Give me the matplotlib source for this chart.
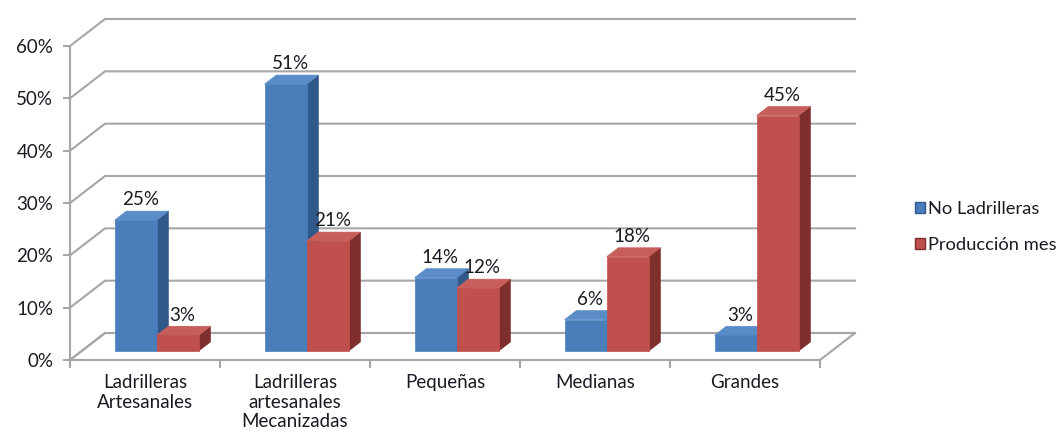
import matplotlib.pyplot as plt
from matplotlib.patches import Polygon, Patch
from matplotlib.ticker import FuncFormatter

categorias = ["Ladrilleras\nArtesanales", "Ladrilleras\nartesanales\nMecanizadas",
              "Pequeñas", "Medianas", "Grandes"]
no_ladrilleras = [25, 51, 14, 6, 3]
produccion_mes = [3, 21, 12, 18, 45]
series = ["No Ladrilleras", "Producción mes"]

# colores: frente, lado, tapa
azul = ("#4a7ebb", "#30598a", "#5a8cc8")
rojo = ("#c0504d", "#7e2e2c", "#c85e5b")

plt.rcParams["font.family"] = ["Lato", "DejaVu Sans"]
txt = "#1a1a24"
grid = "#a6a6a6"
fs = 13.5

fig = plt.figure(figsize=(10.62, 4.41), dpi=100)
ax = fig.add_axes([70 / 1062, 81 / 441, 750 / 1062, 314 / 441])
ax.set_xlim(0, 5)
ax.set_ylim(0, 60)
ax.set_facecolor("none")

# proyeccion oblicua: profundidad completa
DX = 35 / 150
DY = 27 / (314 / 60)


def P(x, y, d):
    return (x + d * DX, y + d * DY)


n = len(categorias)

# piso
piso = Polygon([P(0, 0, 0), P(n, 0, 0), P(n, 0, 1), P(0, 0, 1)], closed=True,
               facecolor="white", edgecolor=grid, lw=1.5, clip_on=False, zorder=1)
ax.add_patch(piso)

# lineas de cuadricula (pared izquierda + fondo)
for v in range(0, 61, 10):
    a, b = P(0, v, 0), P(0, v, 1)
    c = P(n, v, 1)
    ax.plot([a[0], b[0], c[0]], [a[1], b[1], c[1]], color=grid, lw=1.5,
            clip_on=False, zorder=1, solid_joinstyle="miter")

# barras 3D
d0, d1 = 1 / 3, 2 / 3
w = 0.28


def barra(x0, h, cols):
    x1 = x0 + w
    frente = [P(x0, 0, d0), P(x1, 0, d0), P(x1, h, d0), P(x0, h, d0)]
    lado = [P(x1, 0, d0), P(x1, 0, d1), P(x1, h, d1), P(x1, h, d0)]
    tapa = [P(x0, h, d0), P(x1, h, d0), P(x1, h, d1), P(x0, h, d1)]
    for pts, c in ((lado, cols[1]), (tapa, cols[2]), (frente, cols[0])):
        ax.add_patch(Polygon(pts, closed=True, facecolor=c, edgecolor=c,
                             lw=0.5, clip_on=False, zorder=3))
    tx = P(x0 + w / 2 + 0.03, h, d0)[0]
    ty = P(x0, h, d1)[1]
    ax.annotate(f"{h}%", (tx, ty), xytext=(0, 2), textcoords="offset points",
                ha="center", va="bottom", fontsize=fs, color=txt, zorder=5,
                annotation_clip=False)


for i in range(n):
    barra(i + 0.5 - w, no_ladrilleras[i], azul)
    barra(i + 0.5, produccion_mes[i], rojo)

# ejes
for s in ("top", "right"):
    ax.spines[s].set_visible(False)
for s in ("left", "bottom"):
    ax.spines[s].set_color(grid)
    ax.spines[s].set_linewidth(1.5)
    ax.spines[s].set_zorder(2)

ax.set_yticks(range(0, 61, 10))
ax.yaxis.set_major_formatter(FuncFormatter(lambda v, p: f"{int(v)}%"))
ax.tick_params(axis="y", length=5, width=1.5, color=grid, labelsize=fs,
               labelcolor=txt, pad=7)

ax.set_xticks(range(0, n + 1))
ax.set_xticklabels([])
ax.set_xticks([i + 0.5 for i in range(n)], minor=True)
ax.set_xticklabels(categorias, minor=True)
ax.tick_params(axis="x", which="major", length=6, width=1.5, color=grid)
ax.tick_params(axis="x", which="minor", length=0, labelsize=fs,
               labelcolor=txt, pad=10)
for t in ax.get_xticklabels(minor=True):
    t.set_linespacing(1.2)

# leyenda
handles = [Patch(facecolor=azul[0], edgecolor=azul[1]),
           Patch(facecolor=rojo[0], edgecolor=rojo[1])]
fig.legend(handles, series, loc="center left", bbox_to_anchor=(898 / 1062, 1 - 227 / 441),
           frameon=False, fontsize=13.2, handlelength=0.55, handleheight=0.55,
           handletextpad=0.2, labelspacing=1.05, labelcolor=txt)

fig.savefig("out.png", dpi=100)
